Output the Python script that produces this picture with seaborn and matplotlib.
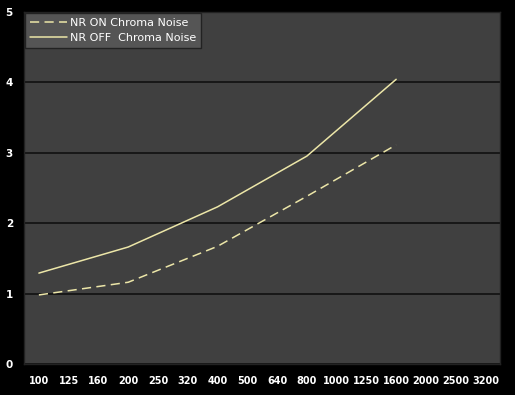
import pandas as pd
import matplotlib
matplotlib.use("Agg")
import matplotlib.pyplot as plt
import seaborn as sns

iso_labels = ["100", "125", "160", "200", "250", "320", "400", "500",
              "640", "800", "1000", "1250", "1600", "2000", "2500", "3200"]
measured_iso = ["100", "200", "400", "800", "1600"]
nr_on = [0.98, 1.16, 1.67, 2.38, 3.11]
nr_off = [1.29, 1.66, 2.23, 2.95, 4.04]

pos = {lab: i for i, lab in enumerate(iso_labels)}
df = pd.DataFrame({
    "x": [pos[v] for v in measured_iso] * 2,
    "value": nr_on + nr_off,
    "series": ["NR ON Chroma Noise"] * 5 + ["NR OFF  Chroma Noise"] * 5,
})

sns.set_style("dark")
plt.rcParams["font.family"] = ["DejaVu Sans"]

fig = plt.figure(figsize=(5.15, 3.95), dpi=100, facecolor="black")
ax = fig.add_axes([0.0466, 0.0785, 0.925, 0.892])
ax.set_facecolor("#404040")

line_color = "#ece6a8"
sns.lineplot(
    data=df, x="x", y="value", hue="series", style="series",
    palette=[line_color, line_color],
    dashes={"NR ON Chroma Noise": (6, 3.5), "NR OFF  Chroma Noise": ""},
    linewidth=1.1, ax=ax,
)

ax.set_xlim(-0.5, len(iso_labels) - 0.5)
ax.set_ylim(0, 5)
ax.set_xticks(range(len(iso_labels)))
ax.set_xticklabels(iso_labels)
ax.set_yticks(range(6))
ax.grid(axis="y", color="#111111", linewidth=1.2)
ax.grid(axis="x", visible=False)
ax.set_xlabel("")
ax.set_ylabel("")
for s in ax.spines.values():
    s.set_visible(True)
    s.set_color("#222222")
    s.set_linewidth(1)

ax.tick_params(axis="x", colors="white", labelsize=7, length=2,
               direction="in", pad=9, color="#222222")
ax.tick_params(axis="y", colors="white", labelsize=7.5, length=0, pad=8)
for t in ax.get_xticklabels() + ax.get_yticklabels():
    t.set_fontweight("bold")
    t.set_color("white")

leg = ax.legend(loc="upper left", bbox_to_anchor=(0.0, 1.0), frameon=True,
                fontsize=8, handlelength=3.3, handletextpad=0.3,
                borderpad=0.45, labelspacing=0.5, borderaxespad=0.1,
                facecolor="#555555", edgecolor="#222222", framealpha=1,
                fancybox=False)
leg.get_frame().set_linewidth(1)
for t in leg.get_texts():
    t.set_color("white")

fig.savefig("out.png", dpi=100, facecolor="black")
plt.close(fig)
